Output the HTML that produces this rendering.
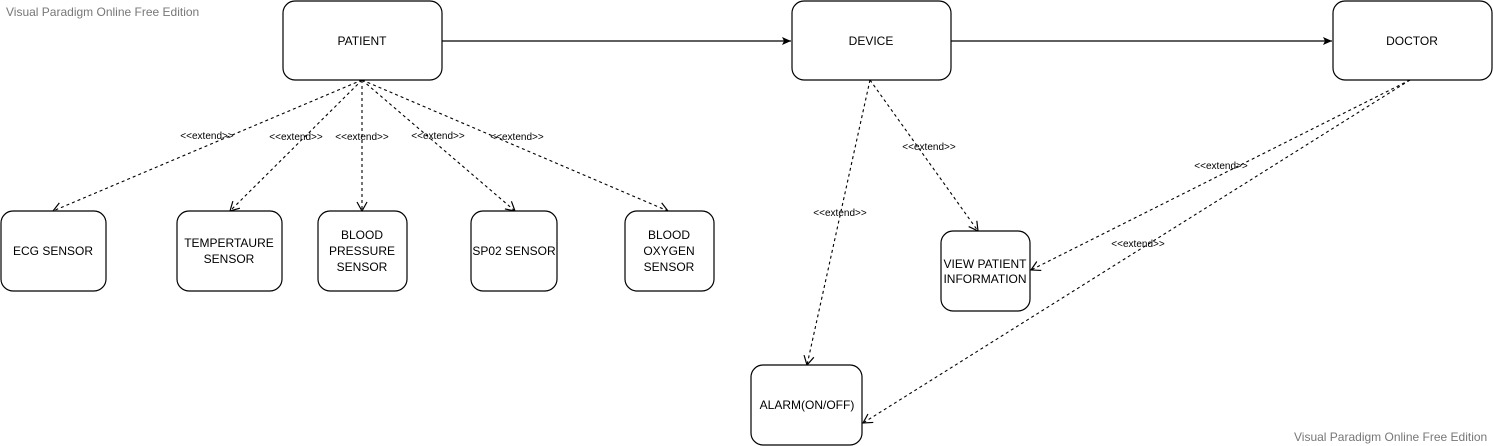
<!DOCTYPE html>
<html><head><meta charset="utf-8"><style>
body{margin:0;background:#fff;}
svg{display:block;font-family:"Liberation Sans",Arial,sans-serif;}
.b{fill:#fff;stroke:#000;stroke-width:1.2;}
.t{font-size:12px;fill:#000;text-anchor:middle;}
.l{font-size:10px;fill:#000;text-anchor:middle;}
.d{stroke:#000;stroke-width:1.1;stroke-dasharray:3,3;fill:none;}
.w{font-size:12px;fill:#777;}
</style></head><body>
<svg width="1493" height="446" viewBox="0 0 1493 446">
<defs>
<marker id="o" markerWidth="12" markerHeight="12" refX="10" refY="6" orient="auto" markerUnits="userSpaceOnUse"><path d="M1,1 L10,6 L1,11" fill="none" stroke="#000" stroke-width="1.2"/></marker>
<marker id="f" markerWidth="10" markerHeight="10" refX="9" refY="5" orient="auto" markerUnits="userSpaceOnUse"><path d="M0,1 L9,5 L0,9 L2,5 Z" fill="#000"/></marker>
</defs>
<text class="w" x="6" y="16">Visual Paradigm Online Free Edition</text>
<text class="w" x="1294" y="441">Visual Paradigm Online Free Edition</text>

<line x1="442" y1="41" x2="791" y2="41" stroke="#000" stroke-width="1.2" marker-end="url(#f)"/>
<line x1="951" y1="41" x2="1332" y2="41" stroke="#000" stroke-width="1.2" marker-end="url(#f)"/>

<line class="d" x1="362" y1="80" x2="53" y2="211" marker-end="url(#o)"/>
<line class="d" x1="362" y1="80" x2="230" y2="211" marker-end="url(#o)"/>
<line class="d" x1="362" y1="80" x2="362" y2="211" marker-end="url(#o)"/>
<line class="d" x1="362" y1="80" x2="515" y2="211" marker-end="url(#o)"/>
<line class="d" x1="362" y1="80" x2="668" y2="211" marker-end="url(#o)"/>
<line class="d" x1="870" y1="80" x2="978" y2="231" marker-end="url(#o)"/>
<line class="d" x1="870" y1="80" x2="807" y2="365" marker-end="url(#o)"/>
<line class="d" x1="1410" y1="80" x2="1031" y2="270" marker-end="url(#o)"/>
<line class="d" x1="1410" y1="80" x2="863" y2="423" marker-end="url(#o)"/>

<text class="l" x="207" y="139">&lt;&lt;extend&gt;&gt;</text>
<text class="l" x="296" y="140">&lt;&lt;extend&gt;&gt;</text>
<text class="l" x="362" y="140">&lt;&lt;extend&gt;&gt;</text>
<text class="l" x="438" y="139">&lt;&lt;extend&gt;&gt;</text>
<text class="l" x="517" y="140">&lt;&lt;extend&gt;&gt;</text>
<text class="l" x="929" y="150">&lt;&lt;extend&gt;&gt;</text>
<text class="l" x="840" y="216">&lt;&lt;extend&gt;&gt;</text>
<text class="l" x="1221" y="169">&lt;&lt;extend&gt;&gt;</text>
<text class="l" x="1138" y="247">&lt;&lt;extend&gt;&gt;</text>

<rect class="b" x="283" y="1" width="159" height="79" rx="12"/><text class="t" x="362" y="45">PATIENT</text>
<rect class="b" x="792" y="1" width="159" height="79" rx="12"/><text class="t" x="871" y="45">DEVICE</text>
<rect class="b" x="1333" y="1" width="159" height="79" rx="12"/><text class="t" x="1412" y="45">DOCTOR</text>

<rect class="b" x="1" y="211" width="105" height="80" rx="12"/><text class="t" x="53" y="255">ECG SENSOR</text>
<rect class="b" x="177" y="211" width="105" height="80" rx="12"/><text class="t" x="229" y="247">TEMPERTAURE</text><text class="t" x="229" y="263">SENSOR</text>
<rect class="b" x="318" y="211" width="89" height="80" rx="12"/><text class="t" x="362" y="239">BLOOD</text><text class="t" x="362" y="255">PRESSURE</text><text class="t" x="362" y="271">SENSOR</text>
<rect class="b" x="471" y="211" width="86" height="80" rx="12"/><text class="t" x="514" y="255">SP02 SENSOR</text>
<rect class="b" x="625" y="211" width="89" height="80" rx="12"/><text class="t" x="669" y="239">BLOOD</text><text class="t" x="669" y="255">OXYGEN</text><text class="t" x="669" y="271">SENSOR</text>
<rect class="b" x="941" y="231" width="89" height="80" rx="12"/><text class="t" x="985" y="268">VIEW PATIENT</text><text class="t" x="985" y="283">INFORMATION</text>
<rect class="b" x="751" y="365" width="111" height="80" rx="12"/><text class="t" x="807" y="409">ALARM(ON/OFF)</text>
</svg>
</body></html>
